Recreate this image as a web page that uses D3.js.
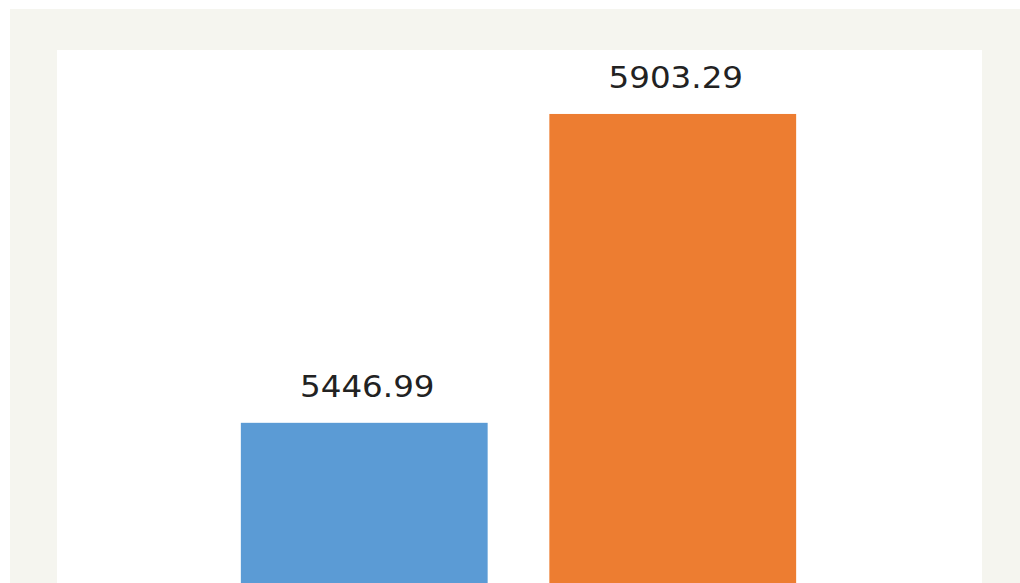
<!DOCTYPE html>
<html>
<head>
<meta charset="utf-8">
<script src="https://cdn.jsdelivr.net/npm/d3@7"></script>
<style>
  body { margin: 0; background: #ffffff; }
  svg { display: block; }
</style>
</head>
<body>
<div id="chart"></div>
<script>
// values
var categories = ["A", "B"];
var values = [5446.99, 5903.29];
var colors = ["#5b9bd5", "#ed7d31"];

var svgWidth = 1020;
var svgHeight = 583;

var svg = d3.select("#chart")
    .append("svg")
    .attr("width", svgWidth)
    .attr("height", svgHeight);

// outer chart background
svg.append("rect")
    .attr("x", 10)
    .attr("y", 9)
    .attr("width", svgWidth - 10)
    .attr("height", svgHeight - 9)
    .attr("fill", "#f5f5ef");

// plot area
svg.append("rect")
    .attr("x", 57)
    .attr("y", 50)
    .attr("width", 925)
    .attr("height", svgHeight - 50)
    .attr("fill", "#ffffff");

var x = d3.scaleBand()
    .domain(categories)
    .range([210, 827])
    .paddingInner(0.2)
    .paddingOuter(0.1);

// axis does not start at zero; the bottom is cut off by the picture
var y = d3.scaleLinear()
    .domain([5200, 6000])
    .range([590, 48.5]);

svg.append("g")
    .selectAll("rect")
    .data(values)
    .enter()
    .append("rect")
    .attr("x", function(d, i) { return x(categories[i]); })
    .attr("y", function(d) { return y(d); })
    .attr("width", x.bandwidth())
    .attr("height", function(d) { return y.range()[0] - y(d); })
    .attr("fill", function(d, i) { return colors[i]; });

svg.append("g")
    .selectAll("text")
    .data(values)
    .enter()
    .append("text")
    .attr("transform", function(d, i) {
        return "translate(" + (x(categories[i]) + x.bandwidth() / 2 + 3) + "," + (y(d) - 26) + ") scale(1.085,1)";
    })
    .attr("text-anchor", "middle")
    .attr("font-family", "DejaVu Sans, sans-serif")
    .attr("font-size", 30)
    .attr("fill", "#222222")
    .text(function(d) { return d.toFixed(2); });
</script>
</body>
</html>
